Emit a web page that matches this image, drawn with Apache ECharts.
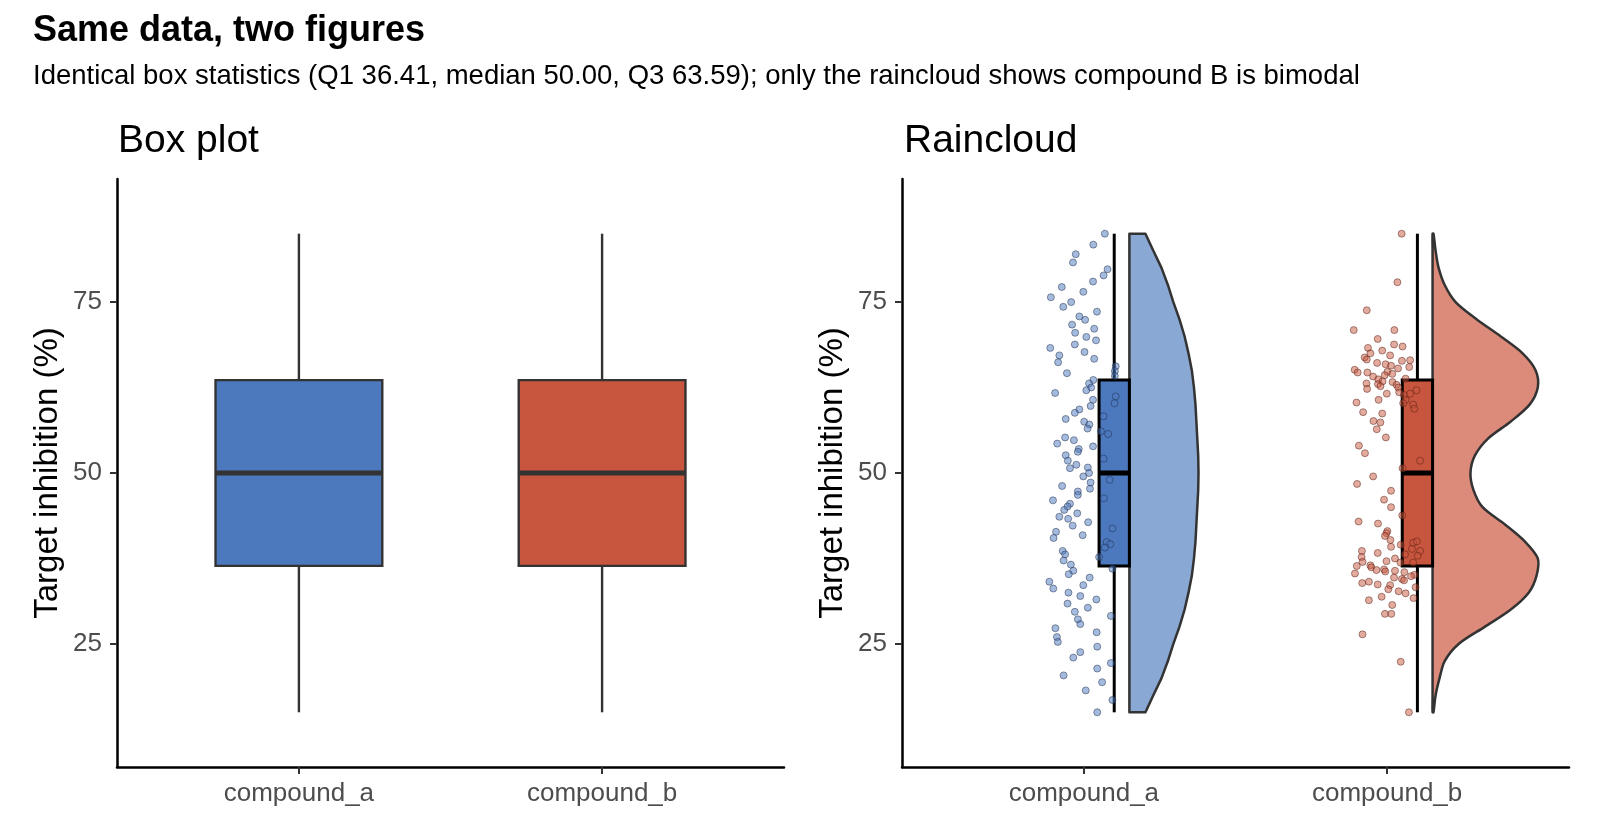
<!DOCTYPE html>
<html>
<head>
<meta charset="utf-8">
<title>Same data, two figures</title>
<script src="https://cdn.jsdelivr.net/npm/echarts@6/dist/echarts.min.js"></script>
<style>
    html, body { margin: 0; padding: 0; background: #fff; }
    #chart { width: 1600px; height: 840px; }
</style>
</head>
<body>
<div id="chart"></div>
<script>
var categories = ['compound_a', 'compound_b'];
var yTicks = [25, 50, 75];

// min, Q1, median, Q3, max (same for both compounds)
var boxStats = [
    [15, 36.41, 50, 63.59, 85],
    [15, 36.41, 50, 63.59, 85]
];

// half-violin outline: width (in category units) at each level
var violinY = [15, 17.5, 20, 22.5, 25, 27.5, 30, 32.5, 35, 37.5, 40, 42.5, 45, 47.5, 50,
               52.5, 55, 57.5, 60, 62.5, 65, 67.5, 70, 72.5, 75, 77.5, 80, 82.5, 85];
var violinA = [0.053, 0.079, 0.106, 0.127, 0.145, 0.165, 0.182, 0.195, 0.206, 0.213, 0.218, 0.221, 0.224, 0.227, 0.228,
               0.227, 0.224, 0.221, 0.218, 0.213, 0.206, 0.195, 0.182, 0.165, 0.145, 0.127, 0.106, 0.079, 0.053];
var violinB = [0.003, 0.010, 0.023, 0.040, 0.086, 0.172, 0.257, 0.317, 0.343, 0.347, 0.304, 0.238, 0.165, 0.135, 0.125,
               0.139, 0.182, 0.257, 0.320, 0.347, 0.340, 0.297, 0.224, 0.145, 0.076, 0.040, 0.020, 0.010, 0.003];

// raw observations (horizontal jitter in category units)
var jitterA = [
    0.069, 0.031, -0.027, -0.036, 0.078, 0.065, 0.030, -0.073, -0.002, -0.109,
    -0.042, -0.068, 0.043, -0.015, 0.004, -0.039, 0.034, -0.029, 0.008, 0.040,
    -0.030, -0.111, 0.002, -0.081, -0.085, 0.034, -0.056, 0.105, 0.102, 0.102,
    0.031, 0.017, 0.024, 0.008, -0.095, 0.105, 0.101, 0.030, 0.022, -0.015,
    -0.030, -0.060, 0.065, 0.001, 0.018, 0.012, 0.056, 0.080, -0.062, -0.033,
    -0.088, 0.030, -0.017, -0.020, -0.060, -0.053, 0.065, -0.025, -0.046, 0.013,
    -0.002, 0.017, 0.022, 0.020, -0.072, 0.085, -0.020, -0.020, -0.102, 0.066,
    -0.046, -0.054, -0.065, -0.022, -0.081, -0.052, -0.037, 0.014, 0.094, -0.092,
    -0.100, -0.004, 0.075, 0.087, 0.069, -0.070, -0.062, -0.067, 0.050, -0.043,
    -0.035, -0.050, 0.019, 0.094, -0.114, -0.101, -0.002, -0.051, -0.012, 0.041,
    -0.054, 0.013, -0.030, 0.089, -0.020, -0.012, -0.094, 0.042, -0.089, -0.086,
    0.044, -0.012, -0.035, 0.089, 0.044, -0.067, 0.060, 0.006, 0.094, 0.044
];
var valuesA = [
    85.0, 83.4, 82.0, 80.8, 79.8, 78.9, 78.0, 77.2, 76.5, 75.7,
    75.0, 74.3, 73.6, 72.9, 72.4, 71.7, 71.1, 70.5, 69.9, 69.4,
    68.8, 68.3, 67.7, 67.2, 66.2, 66.7, 64.6, 65.6, 64.9, 64.2,
    63.6, 63.1, 62.5, 62.1, 61.7, 61.2, 60.2, 60.7, 59.8, 59.3,
    58.8, 57.9, 58.3, 57.5, 57.1, 56.5, 56.1, 55.7, 55.2, 54.8,
    54.3, 53.9, 53.5, 53.1, 52.6, 51.8, 52.1, 51.2, 50.7, 50.8,
    49.5, 50.0, 48.6, 47.7, 48.1, 49.0, 47.3, 46.8, 46.0, 46.3,
    45.5, 45.1, 44.6, 44.1, 43.6, 43.3, 42.3, 42.8, 41.9, 41.4,
    40.5, 40.9, 39.9, 39.6, 39.1, 38.6, 38.1, 37.2, 37.7, 36.6,
    35.7, 35.2, 34.7, 36.0, 34.1, 33.1, 33.6, 32.5, 32.0, 31.5,
    30.9, 30.3, 29.7, 29.1, 28.6, 27.9, 27.3, 26.7, 26.0, 25.3,
    24.6, 23.8, 23.0, 22.2, 21.4, 20.4, 19.4, 18.2, 16.8, 15.0
];
var jitterB = [
    0.048, 0.034, -0.067, -0.110, 0.024, -0.031, 0.023, 0.051, -0.063, -0.016,
    -0.055, 0.010, -0.074, -0.067, 0.049, 0.076, -0.033, -0.005, 0.013, 0.036,
    0.073, -0.107, -0.097, -0.065, 0.001, 0.017, -0.008, -0.046, -0.029, 0.061,
    -0.015, 0.018, -0.068, -0.030, -0.022, 0.031, -0.066, 0.037, 0.040, -0.001,
    0.056, 0.076, 0.097, 0.061, -0.028, -0.101, 0.053, 0.086, 0.090, -0.079,
    -0.016, -0.045, -0.022, -0.034, -0.004, -0.093, -0.073, 0.109, 0.051,
    -0.046, -0.099, 0.013, -0.010, 0.013, 0.050, -0.094, -0.030, 0.001, -0.002,
    -0.007, 0.011, 0.045, 0.086, 0.098, 0.013, 0.082, 0.109, -0.083, -0.031,
    0.059, 0.101, -0.084, -0.081, 0.026, -0.002, 0.044, 0.086, -0.100, -0.055,
    -0.052, -0.035, -0.010, -0.006, -0.106, 0.026, 0.057, 0.023, 0.090, 0.079,
    0.049, 0.056, -0.082, -0.060, -0.031, 0.010, 0.004, 0.094, 0.038, 0.061,
    -0.060, -0.018, 0.087, 0.017, -0.007, 0.014, -0.081, 0.045, 0.072
];
var valuesB = [
    85.0, 77.9, 73.8, 70.9, 70.9, 69.6, 68.8, 68.5, 68.3, 67.9,
    67.5, 67.2, 66.9, 66.6, 66.4, 66.5, 66.1, 65.9, 65.7, 65.3,
    65.5, 65.1, 64.7, 64.7, 64.8, 64.5, 64.3, 64.1, 63.7, 63.8,
    63.4, 63.3, 63.1, 63.0, 62.7, 62.9, 62.3, 62.5, 61.8, 61.6,
    61.4, 61.6, 62.1, 60.7, 60.7, 60.3, 60.2, 60.0, 59.4, 58.9,
    58.7, 57.6, 57.4, 56.4, 55.2, 54.0, 52.9, 51.8, 50.7,
    49.5, 48.4, 47.4, 46.1, 45.0, 43.8, 42.9, 42.6, 41.5, 41.2,
    40.8, 40.2, 39.5, 39.8, 40.0, 39.2, 38.9, 38.6, 38.6, 38.3,
    38.1, 37.9, 37.7, 37.0, 37.5, 37.1, 36.9, 36.9, 36.4, 36.5,
    36.2, 35.8, 35.9, 35.6, 35.3, 35.7, 35.5, 34.7, 35.1, 34.9,
    34.5, 34.3, 33.9, 34.1, 33.7, 33.6, 33.0, 33.3, 32.7, 32.4,
    31.4, 31.9, 31.7, 30.7, 29.4, 29.4, 26.4, 22.4, 15.0
];

var font = 'Liberation Sans, Arial, sans-serif';
var boxColors = ['#4c78be', '#c8553d'];
var violinColors = ['#8aa8d4', '#dc8b7a'];

var chart = echarts.init(document.getElementById('chart'));

// box + whiskers drawn at category position + offset
function boxRenderer(offset, halfW, stroke, lw, medW) {
    return function (params, api) {
        var x = api.value(0) + offset;
        var top = api.coord([x, api.value(5)]);
        var bot = api.coord([x, api.value(1)]);
        var p3 = api.coord([x - halfW, api.value(4)]);
        var p1 = api.coord([x + halfW, api.value(2)]);
        var m1 = api.coord([x - halfW, api.value(3)]);
        var m2 = api.coord([x + halfW, api.value(3)]);
        return {
            type: 'group',
            children: [
                { type: 'line', shape: { x1: top[0], y1: top[1], x2: top[0], y2: p3[1] }, style: { stroke: stroke, lineWidth: lw } },
                { type: 'line', shape: { x1: bot[0], y1: p1[1], x2: bot[0], y2: bot[1] }, style: { stroke: stroke, lineWidth: lw } },
                { type: 'rect', shape: { x: p3[0], y: p3[1], width: p1[0] - p3[0], height: p1[1] - p3[1] },
                  style: { fill: api.visual('color'), stroke: stroke, lineWidth: lw } },
                { type: 'line', shape: { x1: m1[0], y1: m1[1], x2: m2[0], y2: m2[1] }, style: { stroke: stroke, lineWidth: medW } }
            ]
        };
    };
}

function violinRenderer(params, api) {
    var x = api.value(0) + 0.15;
    var widths = params.dataIndex === 0 ? violinA : violinB;
    var pts = [];
    var i;
    for (i = 0; i < violinY.length; i++) {
        pts.push(api.coord([x + widths[i], violinY[i]]));
    }
    for (i = violinY.length - 1; i >= 0; i--) {
        pts.push(api.coord([x, violinY[i]]));
    }
    return {
        type: 'polygon',
        shape: { points: pts, smooth: params.dataIndex === 0 ? 0 : 0.3 },
        style: { fill: api.visual('color'), stroke: '#333', lineWidth: 2.5, lineJoin: 'round' }
    };
}

function makeX(i) {
    return {
        type: 'value', gridIndex: i, min: 0.4, max: 2.6,
        axisLine: { onZero: false, lineStyle: { color: '#000', width: 2.5 } },
        axisTick: { show: true, customValues: [1, 2], length: 7, lineStyle: { color: '#333', width: 2 } },
        axisLabel: {
            customValues: [1, 2], margin: 14, fontSize: 26, color: '#4d4d4d', fontFamily: font,
            formatter: function (v) { return categories[Math.round(v) - 1]; }
        },
        splitLine: { show: false }
    };
}

function makeY(i) {
    return {
        type: 'value', gridIndex: i, min: 7, max: 93,
        name: 'Target inhibition (%)', nameLocation: 'middle', nameGap: 53,
        nameTextStyle: { fontSize: 33, color: '#000', fontFamily: font },
        axisLine: { show: true, lineStyle: { color: '#000', width: 2.5 } },
        axisTick: { show: true, customValues: yTicks, length: 7, lineStyle: { color: '#333', width: 2 } },
        axisLabel: { customValues: yTicks, margin: 15, fontSize: 26, color: '#4d4d4d', fontFamily: font },
        splitLine: { show: false }
    };
}

function boxData() {
    return boxStats.map(function (s, i) {
        return { value: [i + 1].concat(s), itemStyle: { color: boxColors[i] } };
    });
}

var option = {
    animation: false,
    backgroundColor: '#fff',
    title: [
        { text: 'Same data, two figures', left: 33, top: 13, padding: 0,
          textStyle: { fontSize: 36, fontWeight: 'bold', color: '#000', fontFamily: font } },
        { text: 'Identical box statistics (Q1 36.41, median 50.00, Q3 63.59); only the raincloud shows compound B is bimodal',
          left: 33, top: 62, padding: 0,
          textStyle: { fontSize: 27.5, fontWeight: 'normal', color: '#000', fontFamily: font } },
        { text: 'Box plot', left: 118, top: 122, padding: 0,
          textStyle: { fontSize: 39, fontWeight: 'normal', color: '#000', fontFamily: font } },
        { text: 'Raincloud', left: 904, top: 122, padding: 0,
          textStyle: { fontSize: 39, fontWeight: 'normal', color: '#000', fontFamily: font } }
    ],
    grid: [
        { left: 117, top: 179, width: 667, height: 588 },
        { left: 902, top: 179, width: 667, height: 588 }
    ],
    xAxis: [makeX(0), makeX(1)],
    yAxis: [makeY(0), makeY(1)],
    series: [
        {
            name: 'Box plot', type: 'custom', xAxisIndex: 0, yAxisIndex: 0,
            renderItem: boxRenderer(0, 0.275, '#333', 2.4, 5),
            encode: { x: 0, y: [1, 2, 3, 4, 5] },
            data: boxData()
        },
        {
            name: 'Violin', type: 'custom', xAxisIndex: 1, yAxisIndex: 1, z: 1,
            renderItem: violinRenderer,
            encode: { x: 0, y: 1 },
            data: [
                { value: [1, 50], itemStyle: { color: violinColors[0] } },
                { value: [2, 50], itemStyle: { color: violinColors[1] } }
            ]
        },
        {
            name: 'Raincloud box', type: 'custom', xAxisIndex: 1, yAxisIndex: 1, z: 2,
            renderItem: boxRenderer(0.1, 0.05, '#000', 3, 5),
            encode: { x: 0, y: [1, 2, 3, 4, 5] },
            data: boxData()
        },
        {
            name: 'compound_a', type: 'scatter', xAxisIndex: 1, yAxisIndex: 1, z: 3,
            symbolSize: 7,
            itemStyle: { color: 'rgba(76,120,190,0.5)', borderColor: 'rgba(25,40,70,0.6)', borderWidth: 0.8, opacity: 1 },
            data: valuesA.map(function (v, i) { return [1 + jitterA[i], v]; })
        },
        {
            name: 'compound_b', type: 'scatter', xAxisIndex: 1, yAxisIndex: 1, z: 3,
            symbolSize: 7,
            itemStyle: { color: 'rgba(200,85,61,0.5)', borderColor: 'rgba(80,25,15,0.6)', borderWidth: 0.8, opacity: 1 },
            data: valuesB.map(function (v, i) { return [2 + jitterB[i], v]; })
        }
    ]
};
chart.setOption(option);
window.onresize = chart.resize;
</script>
</body>
</html>
